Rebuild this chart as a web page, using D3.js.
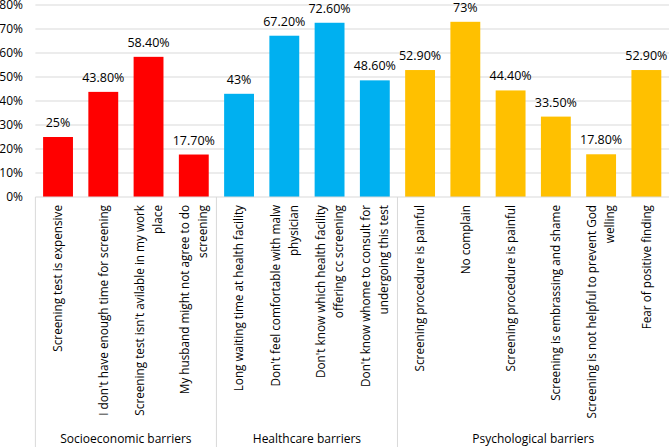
<!DOCTYPE html>
<html>
<head>
<meta charset="utf-8">
<script src="https://cdn.jsdelivr.net/npm/d3@7/dist/d3.min.js"></script>
<style>
  html, body { margin: 0; padding: 0; background: #fff; }
  svg { display: block; font-family: "Open Sans", sans-serif; }
</style>
</head>
<body>
<svg id="chart" width="669" height="447"></svg>
<script>
// ---- data ----
const groups = ["Socioeconomic barriers", "Healthcare barriers", "Psychological barriers"];
const groupSizes = [4, 4, 6];
const categories = [
  "Screening test is expensive",
  "I don't have enough time for screening",
  "Screening test isn't avilable in my work\nplace",
  "My husband might not agree to do\nscreening",
  "Long waiting time at health facility",
  "Don't feel comfortable with malw\nphysician",
  "Don't know which health facility\noffering cc screening",
  "Don't know whome to consult for\nundergoing this test",
  "Screening procedure is painful",
  "No complain",
  "Screening procedure is painful",
  "Screening is embrassing and shame",
  "Screening is not helpful to prevent God\nwelling",
  "Fear of positive finding"
];
const values = [25, 43.8, 58.4, 17.7, 43, 67.2, 72.6, 48.6, 52.9, 73, 44.4, 33.5, 17.8, 52.9];
const valueLabels = ["25%", "43.80%", "58.40%", "17.70%", "43%", "67.20%", "72.60%", "48.60%",
                     "52.90%", "73%", "44.40%", "33.50%", "17.80%", "52.90%"];
const groupColors = ["#ff0000", "#00b0f0", "#ffc000"];
const yTicks = [0, 10, 20, 30, 40, 50, 60, 70, 80];

(function () {
// ---- layout ----
const svg = d3.select("#chart");
const pLeft = 35.4, pRight = 669, pTop = 5, pBottom = 197;
const idx = categories.map((_, i) => i);
const groupOf = [];
groupSizes.forEach((n, g) => { for (let k = 0; k < n; k++) groupOf.push(g); });

const x = d3.scaleBand().domain(idx).range([pLeft, pRight]).paddingInner(0.34).paddingOuter(0.17);
const y = d3.scaleLinear().domain([0, 80]).range([pBottom, pTop]);

const gridColor = "#d9d9d9";

// measure font size for category labels so the longest label spans ~212px
const probe = svg.append("text").attr("font-size", 12).text("I don't have enough time for screening");
const probeLen = probe.node().getComputedTextLength();
probe.remove();
const catSize = Math.min(13, Math.max(11, 12 * 211 / probeLen));

// gridlines
svg.append("g").selectAll("line").data(yTicks.slice(1)).join("line")
  .attr("x1", pLeft).attr("x2", pRight)
  .attr("y1", d => y(d)).attr("y2", d => y(d))
  .attr("stroke", gridColor).attr("stroke-width", 1);

// y axis labels
svg.append("g").selectAll("text").data(yTicks).join("text")
  .attr("x", 23).attr("y", d => y(d)).attr("dy", "0.36em")
  .attr("text-anchor", "end").attr("font-size", 12).attr("fill", "#000")
  .text(d => d + "%");

// bars
svg.append("g").selectAll("rect").data(idx).join("rect")
  .attr("x", i => x(i)).attr("width", x.bandwidth())
  .attr("y", i => y(values[i])).attr("height", i => y(0) - y(values[i]))
  .attr("fill", i => groupColors[groupOf[i]]);

// data labels
svg.append("g").selectAll("text").data(idx).join("text")
  .attr("x", i => x(i) + x.bandwidth() / 2).attr("y", i => y(values[i]) - 10)
  .attr("text-anchor", "middle").attr("font-size", 12.5).attr("fill", "#000")
  .text(i => valueLabels[i]);

// x axis line
svg.append("line").attr("x1", pLeft).attr("x2", pRight).attr("y1", pBottom).attr("y2", pBottom)
  .attr("stroke", gridColor);

// group separators
const step = x.step();
const bounds = [0];
groupSizes.reduce((acc, n) => { bounds.push(acc + n); return acc + n; }, 0);
svg.append("g").selectAll("line").data(bounds.slice(0, 3)).join("line")
  .attr("x1", b => pLeft + b * step).attr("x2", b => pLeft + b * step)
  .attr("y1", pBottom).attr("y2", 447)
  .attr("stroke", gridColor);

// category labels (rotated)
const lineH = 18;
const cat = svg.append("g").selectAll("text").data(idx).join("text")
  .attr("transform", i => `translate(${x(i) + x.bandwidth() / 2},205) rotate(-90)`)
  .attr("text-anchor", "end").attr("font-size", catSize).attr("fill", "#000");
cat.each(function (i) {
  const lines = categories[i].split("\n");
  const t = d3.select(this);
  lines.forEach((ln, k) => {
    t.append("tspan").attr("x", 0)
      .attr("y", (k - (lines.length - 1) / 2) * lineH)
      .attr("dy", "0.36em").text(ln);
  });
});

// group labels
svg.append("g").selectAll("text").data(groups).join("text")
  .attr("x", (g, j) => pLeft + (bounds[j] + bounds[j + 1]) / 2 * step)
  .attr("y", 443)
  .attr("text-anchor", "middle").attr("font-size", 12).attr("fill", "#000")
  .text(g => g);
})();
</script>
</body>
</html>
